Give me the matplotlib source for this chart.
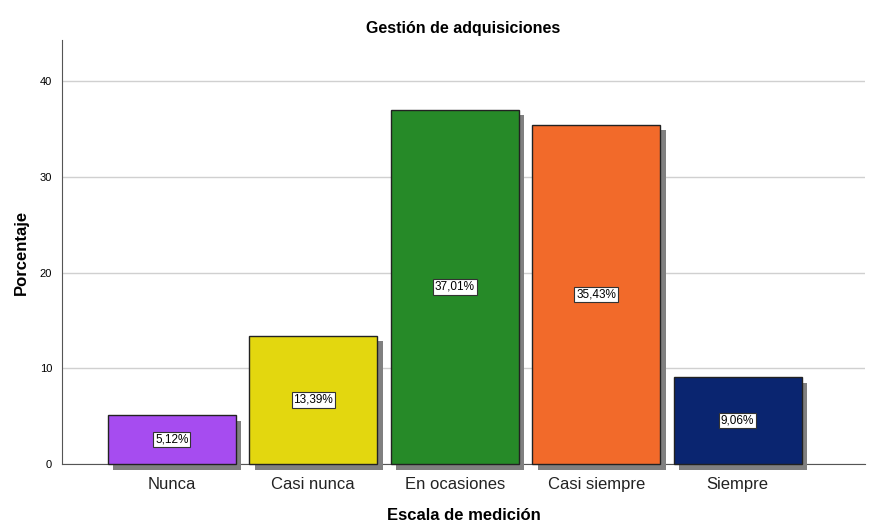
import matplotlib
matplotlib.use("Agg")
import matplotlib.pyplot as plt
import matplotlib.patheffects as pe

categories = ["Nunca", "Casi nunca", "En ocasiones", "Casi siempre", "Siempre"]
values = [5.12, 13.39, 37.01, 35.43, 9.06]
labels = ["5,12%", "13,39%", "37,01%", "35,43%", "9,06%"]
colors = ["#A64CF0", "#E3D70F", "#268A28", "#F26A2A", "#0A2570"]
yticks = [0, 10, 20, 30, 40]

plt.rcParams['font.family'] = ['Liberation Sans', 'DejaVu Sans']

fig = plt.figure(figsize=(8.79, 5.23), dpi=100)
ax = fig.add_axes([0.0705, 0.1128, 0.9135, 0.8107])

x = list(range(len(categories)))
bars = ax.bar(x, values, width=0.905, color=colors, edgecolor="#222222",
              linewidth=1.0, zorder=3, clip_on=False)
for b in bars:
    b.set_path_effects([pe.SimplePatchShadow(offset=(4.0, -4.0), shadow_rgbFace="#808080", alpha=1.0),
                        pe.Normal()])

for xi, v, lab in zip(x, values, labels):
    ax.text(xi, v / 2, lab, ha="center", va="center", fontsize=8.5, zorder=5,
            bbox=dict(boxstyle="square,pad=0.15", facecolor="white", edgecolor="#333333", linewidth=0.8))

ax.set_xlim(-0.777, 4.9)
ax.set_ylim(0, 44.3)
ax.set_yticks(yticks)
ax.set_yticklabels([str(t) for t in yticks], fontsize=8)
ax.set_xticks(x)
ax.set_xticklabels(categories, fontsize=12, color="#222222")
ax.tick_params(axis="both", length=0)
ax.tick_params(axis="x", pad=9)
ax.tick_params(axis="y", pad=7)
ax.yaxis.grid(True, color="#D0D0D0", linewidth=1.0, zorder=0)
ax.set_axisbelow(True)
for s in ["top", "right"]:
    ax.spines[s].set_visible(False)
ax.spines["left"].set_color("#555555")
ax.spines["bottom"].set_color("#555555")

ax.set_title("Gestión de adquisiciones", fontsize=11.5, fontweight="bold", pad=5)
ax.set_xlabel("Escala de medición", fontsize=12, fontweight="bold", labelpad=12)
ax.set_ylabel("Porcentaje", fontsize=12, fontweight="bold", labelpad=8)

fig.savefig("out.png", dpi=100)
